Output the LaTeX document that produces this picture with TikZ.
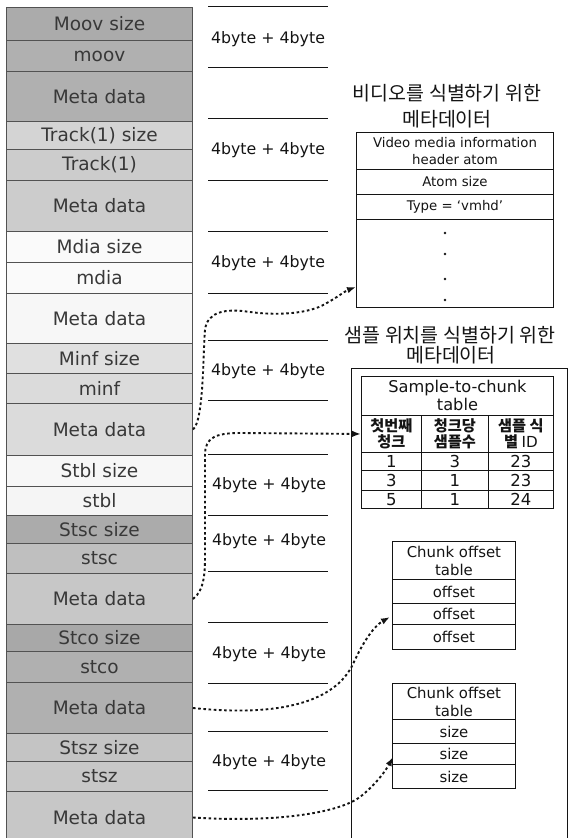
\documentclass[tikz,border=0pt]{standalone}
\usepackage{fontspec}
\setmainfont{DejaVu Sans}
\newfontfamily\kr{Noto Sans CJK KR}
\usetikzlibrary{arrows.meta}
\definecolor{rowline}{gray}{0.32}
\definecolor{rowtext}{gray}{0.22}
\definecolor{ink}{gray}{0.08}
\tikzset{
  cell/.style={draw=rowline, line width=1bp, minimum width=186bp, inner sep=0pt,
    anchor=north west, text=rowtext, font=\fontsize{18.5bp}{20bp}\selectfont},
  sepline/.style={draw=ink, line width=0.9bp},
  bytes/.style={text=ink, inner sep=0pt, font=\fontsize{15.8bp}{18bp}\selectfont},
  heading/.style={text=ink, inner sep=0pt, align=center, font=\kr\fontsize{19.5bp}{26bp}\selectfont},
  tcell/.style={draw=ink, line width=0.9bp, inner sep=0pt, anchor=north west, text=ink, align=center},
  vfont/.style={font=\fontsize{13.3bp}{17bp}\selectfont},
  sfont/.style={font=\fontsize{16.2bp}{18bp}\selectfont},
  nfont/.style={font=\fontsize{16.5bp}{18bp}\selectfont},
  hfont/.style={font=\kr\bfseries\fontsize{15.2bp}{16.5bp}\selectfont},
  cfont/.style={font=\fontsize{14.9bp}{18bp}\selectfont},
  link/.style={draw=ink, line width=1.9bp, dash pattern=on 2.6bp off 2.6bp,
    -{Latex[length=9bp,width=6.5bp]}},
}
\begin{document}
\begin{tikzpicture}[x=1bp,y=-1bp]
\useasboundingbox (0,0) rectangle (568,838);
\fill[white] (0,0) rectangle (568,838);

% ---- atom layout column ----
\node[cell, fill=black!33, minimum height=33bp] (r1)  at (6,7)   {Moov size};
\node[cell, fill=black!31, minimum height=31bp] (r2)  at (6,40)  {moov};
\node[cell, fill=black!31, minimum height=50bp] (r3)  at (6,71)  {Meta data};
\node[cell, fill=black!17, minimum height=28bp] (r4)  at (6,121) {Track(1) size};
\node[cell, fill=black!20, minimum height=31bp] (r5)  at (6,149) {Track(1)};
\node[cell, fill=black!20, minimum height=51bp] (r6)  at (6,180) {Meta data};
\node[cell, fill=black!2,  minimum height=31bp] (r7)  at (6,231) {Mdia size};
\node[cell, fill=black!2,  minimum height=31bp] (r8)  at (6,262) {mdia};
\node[cell, fill=black!3,  minimum height=50bp] (r9)  at (6,293) {Meta data};
\node[cell, fill=black!12, minimum height=30bp] (r10) at (6,343) {Minf size};
\node[cell, fill=black!14, minimum height=30bp] (r11) at (6,373) {minf};
\node[cell, fill=black!14, minimum height=52bp] (r12) at (6,403) {Meta data};
\node[cell, fill=black!3,  minimum height=31bp] (r13) at (6,455) {Stbl size};
\node[cell, fill=black!4,  minimum height=29bp] (r14) at (6,486) {stbl};
\node[cell, fill=black!33, minimum height=28bp] (r15) at (6,515) {Stsc size};
\node[cell, fill=black!25, minimum height=30bp] (r16) at (6,543) {stsc};
\node[cell, fill=black!22, minimum height=51bp] (r17) at (6,573) {Meta data};
\node[cell, fill=black!34, minimum height=27bp] (r18) at (6,624) {Stco size};
\node[cell, fill=black!31, minimum height=31bp] (r19) at (6,651) {stco};
\node[cell, fill=black!31, minimum height=51bp] (r20) at (6,682) {Meta data};
\node[cell, fill=black!23, minimum height=28bp] (r21) at (6,733) {Stsz size};
\node[cell, fill=black!22, minimum height=30bp] (r22) at (6,761) {stsz};
\node[cell, fill=black!22, minimum height=52bp] (r23) at (6,791) {Meta data};

% ---- size + type fields ----
\foreach \y in {6,67,118,180,231,293,340,400,454,515,571,622,683,731,790}
  \draw[sepline] (208,\y) -- (328,\y);
\node[bytes] (b1) at (268,39)  {4byte + 4byte};
\node[bytes] (b2) at (268,150) {4byte + 4byte};
\node[bytes] (b3) at (268,263) {4byte + 4byte};
\node[bytes] (b4) at (268,371) {4byte + 4byte};
\node[bytes] (b5) at (269,485) {4byte + 4byte};
\node[bytes] (b6) at (269,541) {4byte + 4byte};
\node[bytes] (b7) at (269,654) {4byte + 4byte};
\node[bytes] (b8) at (269,762) {4byte + 4byte};

% ---- video media information header ----
\node[heading] (vh1) at (447,93)  {비디오를 식별하기 위한};
\node[heading] (vh2) at (447,119) {메타데이터};
\node[tcell, vfont, minimum width=197bp, minimum height=37bp] (v1) at (356,132) {Video media information\\header atom};
\node[tcell, vfont, minimum width=197bp, minimum height=25bp] (v2) at (356,169) {Atom size};
\node[tcell, vfont, minimum width=197bp, minimum height=25bp] (v3) at (356,194) {Type = ‘vmhd’};
\node[tcell, minimum width=197bp, minimum height=88bp] (v4) at (356,219) {};
\foreach \y in {233,254,279,300} \fill[ink] (445,\y) circle (1.3bp);
\coordinate (vtip) at (356,287);

% ---- sample location tables ----
\node[heading] (sh1) at (450,335) {샘플 위치를 식별하기 위한};
\node[heading] (sh2) at (451,355) {메타데이터};
\draw[ink, line width=0.9bp] (351,845) |- (567,368) -- (567,845);

\node[tcell, sfont, minimum width=192bp, minimum height=39bp] (s0) at (361,376) {Sample-to-chunk\\table};
\node[tcell, hfont, minimum width=60bp, minimum height=37bp] (h1) at (361,415) {첫번째\\청크};
\node[tcell, hfont, minimum width=67bp, minimum height=37bp] (h2) at (421,415) {청크당\\샘플수};
\node[tcell, hfont, minimum width=65bp, minimum height=37bp] (h3) at (488,415) {샘플 식\\별 {\mdseries\fontspec{DejaVu Sans}ID}};
\node[tcell, nfont, minimum width=60bp, minimum height=18bp] (a1) at (361,452) {1};
\node[tcell, nfont, minimum width=67bp, minimum height=18bp] (a2) at (421,452) {3};
\node[tcell, nfont, minimum width=65bp, minimum height=18bp] (a3) at (488,452) {23};
\node[tcell, nfont, minimum width=60bp, minimum height=20bp] (b1r) at (361,470) {3};
\node[tcell, nfont, minimum width=67bp, minimum height=20bp] (b2r) at (421,470) {1};
\node[tcell, nfont, minimum width=65bp, minimum height=20bp] (b3r) at (488,470) {23};
\node[tcell, nfont, minimum width=60bp, minimum height=18bp] (c1) at (361,490) {5};
\node[tcell, nfont, minimum width=67bp, minimum height=18bp] (c2) at (421,490) {1};
\node[tcell, nfont, minimum width=65bp, minimum height=18bp] (c3) at (488,490) {24};

\node[tcell, cfont, minimum width=123bp, minimum height=38bp] (o0) at (392,541) {Chunk offset\\table};
\node[tcell, cfont, minimum width=123bp, minimum height=24bp] (o1) at (392,579) {offset};
\node[tcell, cfont, minimum width=123bp, minimum height=21bp] (o2) at (392,603) {offset};
\node[tcell, cfont, minimum width=123bp, minimum height=25bp] (o3) at (392,624) {offset};
\coordinate (otip) at (390,617);

\node[tcell, cfont, minimum width=123bp, minimum height=36bp] (z0) at (392,683) {Chunk offset\\table};
\node[tcell, cfont, minimum width=123bp, minimum height=24bp] (z1) at (392,719) {size};
\node[tcell, cfont, minimum width=123bp, minimum height=21bp] (z2) at (392,743) {size};
\node[tcell, cfont, minimum width=123bp, minimum height=24bp] (z3) at (392,764) {size};
\coordinate (ztip) at (393,757);

% ---- references from the meta data atoms ----
\draw[link] (r12.east) .. controls (204,421) and (203,350) .. (205,330)
  .. controls (207,312) and (225,308) .. (250,312)
  .. controls (280,316) and (310,313) .. (325,304)
  .. controls (338,297) and (345,291) .. (vtip);
\draw[link] (r17.east) .. controls (205,590) and (205,570) .. (205,555)
  -- (205,455) .. controls (205,438) and (215,433) .. (240,433)
  -- (h1.west);
\draw[link] (r20.east) .. controls (280,717) and (335,702) .. (353,664)
  .. controls (363,642) and (374,626) .. (otip);
\draw[link] (r23.east) .. controls (280,823) and (340,812) .. (360,797)
  .. controls (375,785) and (385,772) .. (ztip);
\end{tikzpicture}
\end{document}
